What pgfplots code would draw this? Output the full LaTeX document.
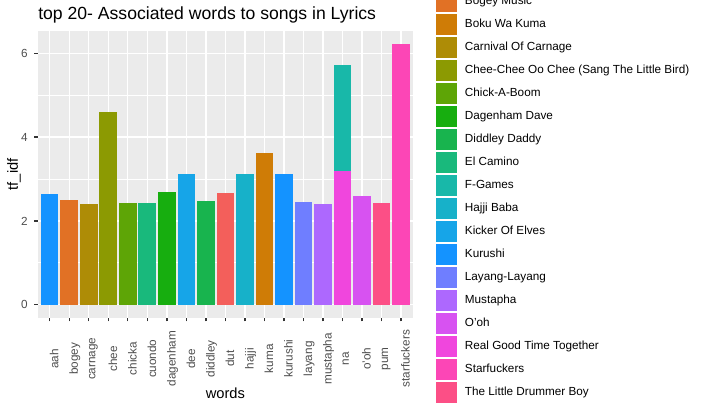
\documentclass[border=0pt]{standalone}
\usepackage{pgfplots}
\pgfplotsset{compat=1.18}
\usepackage{fontspec}
\setmainfont{Liberation Sans}
\definecolor{panelbg}{HTML}{EBEBEB}
\definecolor{grey30}{HTML}{4D4D4D}
\definecolor{grey20}{HTML}{333333}
\definecolor{cAadat}{HTML}{F35F5B}
\definecolor{cBogey}{HTML}{E17125}
\definecolor{cBoku}{HTML}{CF7C06}
\definecolor{cCarnival}{HTML}{AE8C06}
\definecolor{cChee}{HTML}{8C9A02}
\definecolor{cChick}{HTML}{5EA506}
\definecolor{cDagenham}{HTML}{17AE0F}
\definecolor{cDiddley}{HTML}{18B44E}
\definecolor{cElCamino}{HTML}{19B97C}
\definecolor{cFGames}{HTML}{18B8A9}
\definecolor{cHajji}{HTML}{17B1C9}
\definecolor{cKicker}{HTML}{16A5E8}
\definecolor{cKurushi}{HTML}{1493FF}
\definecolor{cLayang}{HTML}{6F7EFF}
\definecolor{cMustapha}{HTML}{AD68FE}
\definecolor{cOoh}{HTML}{D752F1}
\definecolor{cRealGood}{HTML}{F046DD}
\definecolor{cStar}{HTML}{FC46B6}
\definecolor{cDrummer}{HTML}{FC4F86}
\begin{document}
\begin{tikzpicture}
\begin{axis}[
  at={(28.5pt,67.7pt)}, anchor=south west,
  scale only axis, width=281pt, height=215pt,
  xmin=-0.6, xmax=18.6, ymin=-0.311, ymax=6.531,
  axis background/.style={fill=panelbg},
  axis line style={draw=none},
  xtick={0,...,18},
  xticklabels={aah,bogey,carnage,chee,chicka,cuondo,dagenham,dee,diddley,dut,hajji,kuma,kurushi,layang,mustapha,na,o'oh,pum,starfuckers},
  ytick={0,2,4,6},
  minor ytick={1,3,5},
  grid=both,
  major grid style={white, line width=1.07pt},
  minor grid style={white, line width=0.53pt},
  tick align=outside, xtick pos=bottom, ytick pos=left,
  major tick length=2.75pt, minor tick length=0pt,
  tick style={color=grey20, line width=1.07pt},
  /pgf/number format/assume math mode=true,
  yticklabel style={font=\fontsize{8.8}{10}\selectfont, text=grey30, inner sep=0pt, anchor=east, xshift=-4.8pt},
  xticklabel style={font=\fontsize{8.8}{10}\selectfont, text=grey30, inner sep=0pt, anchor=north, yshift=-28pt, rotate=90},
  title={top 20- Associated words to songs in Lyrics},
  title style={at={(axis description cs:0,1.042)}, anchor=base west, yshift=-6pt, font=\fontsize{13.2}{15}\selectfont, inner sep=0pt},
  xlabel={words},
  xlabel style={at={(axis description cs:0.5,-0.2626)}, anchor=center, font=\fontsize{11}{13}\selectfont, inner sep=0pt},
  ylabel={tf\_idf},
  ylabel style={at={(axis description cs:-0.064,0.5)}, anchor=center, font=\fontsize{11}{13}\selectfont, inner sep=0pt},
  legend image code/.code={\fill[#1, draw=none] (0pt,-7.75pt) rectangle (15.5pt,7.75pt);},
  legend cell align=left,
  legend style={at={(1.0623,1.140)}, anchor=north west, draw=none, fill=none, inner sep=0pt, outer sep=0pt, row sep=1.75pt, column sep=6.2pt, font=\fontsize{8.8}{10}\selectfont, nodes={inner sep=0pt, outer sep=0pt}},
  mybar/.style={ybar, bar width=0.9, draw=none, fill=#1, forget plot},
]
\addplot[mybar=cKurushi] coordinates {(0,2.64)};
\addplot[mybar=cBogey] coordinates {(1,2.49)};
\addplot[mybar=cCarnival] coordinates {(2,2.40)};
\addplot[mybar=cChee] coordinates {(3,4.61)};
\addplot[mybar=cChick] coordinates {(4,2.42)};
\addplot[mybar=cElCamino] coordinates {(5,2.42)};
\addplot[mybar=cDagenham] coordinates {(6,2.68)};
\addplot[mybar=cKicker] coordinates {(7,3.11)};
\addplot[mybar=cDiddley] coordinates {(8,2.47)};
\addplot[mybar=cAadat] coordinates {(9,2.66)};
\addplot[mybar=cHajji] coordinates {(10,3.11)};
\addplot[mybar=cBoku] coordinates {(11,3.63)};
\addplot[mybar=cKurushi] coordinates {(12,3.11)};
\addplot[mybar=cLayang] coordinates {(13,2.45)};
\addplot[mybar=cMustapha] coordinates {(14,2.40)};
% na: F-Games 2.53 stacked on Real Good Time Together 3.19 (total 5.72)
\addplot[mybar=cFGames] coordinates {(15,5.72)};
\addplot[mybar=cRealGood] coordinates {(15,3.19)};
\addplot[mybar=cOoh] coordinates {(16,2.59)};
\addplot[mybar=cDrummer] coordinates {(17,2.42)};
\addplot[mybar=cStar] coordinates {(18,6.22)};
\addlegendimage{fill=cBogey}\addlegendentry{Bogey Music}
\addlegendimage{fill=cBoku}\addlegendentry{Boku Wa Kuma}
\addlegendimage{fill=cCarnival}\addlegendentry{Carnival Of Carnage}
\addlegendimage{fill=cChee}\addlegendentry{Chee-Chee Oo Chee (Sang The Little Bird)}
\addlegendimage{fill=cChick}\addlegendentry{Chick-A-Boom}
\addlegendimage{fill=cDagenham}\addlegendentry{Dagenham Dave}
\addlegendimage{fill=cDiddley}\addlegendentry{Diddley Daddy}
\addlegendimage{fill=cElCamino}\addlegendentry{El Camino}
\addlegendimage{fill=cFGames}\addlegendentry{F-Games}
\addlegendimage{fill=cHajji}\addlegendentry{Hajji Baba}
\addlegendimage{fill=cKicker}\addlegendentry{Kicker Of Elves}
\addlegendimage{fill=cKurushi}\addlegendentry{Kurushi}
\addlegendimage{fill=cLayang}\addlegendentry{Layang-Layang}
\addlegendimage{fill=cMustapha}\addlegendentry{Mustapha}
\addlegendimage{fill=cOoh}\addlegendentry{O'oh}
\addlegendimage{fill=cRealGood}\addlegendentry{Real Good Time Together}
\addlegendimage{fill=cStar}\addlegendentry{Starfuckers}
\addlegendimage{fill=cDrummer}\addlegendentry{The Little Drummer Boy}
\end{axis}
\pgfresetboundingbox
\path[use as bounding box] (0,0) rectangle (528pt,306pt);
\end{tikzpicture}
\end{document}
